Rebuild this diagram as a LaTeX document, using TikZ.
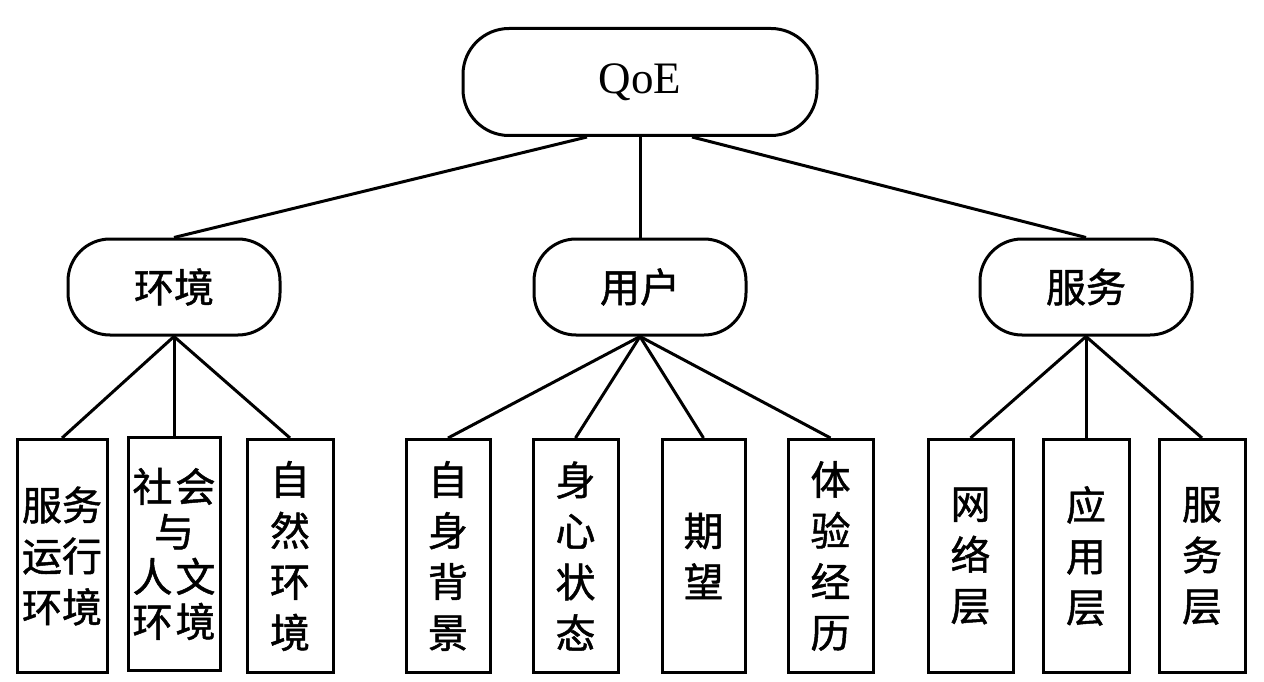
\documentclass[tikz,border=0pt]{standalone}
\usepackage{fontspec}
\setmainfont{Liberation Serif}
\newfontfamily\cjk[FakeBold=1.2]{Noto Sans CJK SC}
\begin{document}
\begin{tikzpicture}[x=1pt,y=-1pt]
\tikzset{
  qoebox/.style={draw, line width=3pt, rounded corners=46pt, minimum width=354pt, minimum height=107pt, inner sep=0pt, font=\fontsize{45pt}{50pt}\selectfont},
  midbox/.style={draw, line width=3pt, rounded corners=42pt, minimum width=212pt, minimum height=96pt, inner sep=0pt, font=\cjk\fontsize{40pt}{48pt}\selectfont},
  leafbox/.style={draw, line width=3pt, minimum width=86pt, minimum height=233pt, inner sep=0pt, align=center, font=\cjk\fontsize{40pt}{51pt}\selectfont},
  conn/.style={line width=3pt}
}
\useasboundingbox (0,0) rectangle (1264,682);
\fill[white] (0,0) rectangle (1264,682);

\node[qoebox] (qoe) at (640,82) {QoE};

\node[midbox] (env) at (174,287) {环境};
\node[midbox] (usr) at (640,287) {用户};
\node[midbox] (svc) at (1086,287) {服务};

\node[leafbox, minimum width=90pt] (l1) at (62,556) {服务\\运行\\环境};
\node[leafbox, minimum width=92pt, font=\cjk\fontsize{40pt}{45pt}\selectfont] (l2) at (174,554) {社\kern3pt 会\\与\\人\kern3pt 文\\环\kern3pt 境};
\node[leafbox] (l3) at (290,556) {自\\然\\环\\境};
\node[leafbox, minimum width=84pt] (l4) at (448,556) {自\\身\\背\\景};
\node[leafbox, minimum width=85pt] (l5) at (575.5,556) {身\\心\\状\\态};
\node[leafbox, minimum width=83pt] (l6) at (703.5,556) {期\\望};
\node[leafbox, minimum width=85pt] (l7) at (830.5,556) {体\\验\\经\\历};
\node[leafbox, minimum width=85pt] (l8) at (970.5,556) {网\\络\\层};
\node[leafbox, minimum width=86pt] (l9) at (1086,556) {应\\用\\层};
\node[leafbox, minimum width=86pt] (l10) at (1202,556) {服\\务\\层};

\draw[conn] ([xshift=-53pt]qoe.south) -- (env.north);
\draw[conn] (qoe.south) -- (usr.north);
\draw[conn] ([xshift=52pt]qoe.south) -- (svc.north);

\foreach \c in {l1,l2,l3} \draw[conn] (env.south) -- (\c.north);
\foreach \c in {l4,l5,l6,l7} \draw[conn] (usr.south) -- (\c.north);
\foreach \c in {l8,l9,l10} \draw[conn] (svc.south) -- (\c.north);
\end{tikzpicture}
\end{document}
